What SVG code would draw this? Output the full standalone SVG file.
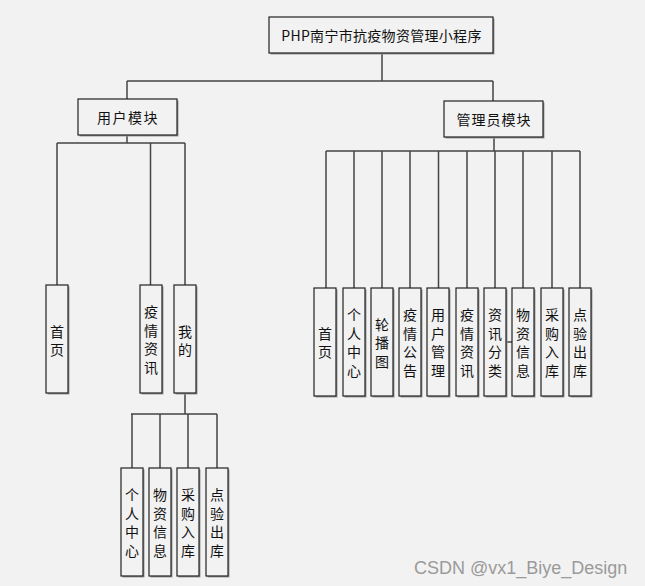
<svg xmlns="http://www.w3.org/2000/svg" width="645" height="586" viewBox="0 0 645 586">
<style>
.bx{fill:#f2f2f2;stroke:#222;stroke-width:1.2}
.sh{fill:#9a9a9a}
.t{font-family:"Noto Sans CJK SC","Liberation Sans",sans-serif;font-size:14px;fill:#111;text-anchor:middle;dominant-baseline:central}
.ln{stroke:#444;stroke-width:1.5;fill:none}
.wm{font-family:"Liberation Sans","Noto Sans",sans-serif;font-size:18px;fill:#9a9a9a}
</style>
<rect width="645" height="586" fill="#f2f2f2"/>
<g id="connectors">
<path class="ln" d="M382,53V81M127,81H493M127,81V99M493,81V101"/>
<path class="ln" d="M127,135V143M57,143H185M57,143V285M150.5,143V285M185,143V285"/>
<path class="ln" d="M185,393V414M131,414H217M132,414V468M160,414V468M188,414V468M217,414V468"/>
<path class="ln" d="M494,137V151M326,151H580M326,151V288M354,151V288M382,151V288M410,151V288M438.5,151V288M467,151V288M495,151V288M523,151V288M552,151V288M580,151V288"/>
<path class="ln" d="M506,342H512"/>
</g>
<g id="root"><rect class="sh" x="270.5" y="18.5" width="224" height="36"/><rect class="bx" x="269" y="17" width="224" height="36"/><text class="t" x="381.5" y="35" letter-spacing="0.3">PHP南宁市抗疫物资管理小程序</text></g>
<g id="user"><rect class="sh" x="79.5" y="100.5" width="99" height="36"/><rect class="bx" x="78" y="99" width="99" height="36"/><text class="t" x="128" y="117" letter-spacing="1.5">用户模块</text></g>
<g id="admin"><rect class="sh" x="445.5" y="102.5" width="99" height="36"/><rect class="bx" x="444" y="101" width="99" height="36"/><text class="t" x="494" y="119" letter-spacing="1">管理员模块</text></g>
<g id="u1"><rect class="sh" x="47.5" y="286.5" width="22" height="108"/><rect class="bx" x="46" y="285" width="22" height="108"/><text class="t" x="57" y="330.75">首</text><text class="t" x="57" y="349.25">页</text></g>
<g id="u2"><rect class="sh" x="141.5" y="286.5" width="22" height="108"/><rect class="bx" x="140" y="285" width="22" height="108"/><text class="t" x="151" y="311.25">疫</text><text class="t" x="151" y="329.75">情</text><text class="t" x="151" y="348.25">资</text><text class="t" x="151" y="366.75">讯</text></g>
<g id="u3"><rect class="sh" x="175.5" y="286.5" width="22" height="108"/><rect class="bx" x="174" y="285" width="22" height="108"/><text class="t" x="185" y="330.75">我</text><text class="t" x="185" y="349.25">的</text></g>
<g id="m1"><rect class="sh" x="122.5" y="469.5" width="22" height="108"/><rect class="bx" x="121" y="468" width="22" height="108"/><text class="t" x="132" y="494.25">个</text><text class="t" x="132" y="512.75">人</text><text class="t" x="132" y="531.25">中</text><text class="t" x="132" y="549.75">心</text></g>
<g id="m2"><rect class="sh" x="150.5" y="469.5" width="22" height="108"/><rect class="bx" x="149" y="468" width="22" height="108"/><text class="t" x="160" y="494.25">物</text><text class="t" x="160" y="512.75">资</text><text class="t" x="160" y="531.25">信</text><text class="t" x="160" y="549.75">息</text></g>
<g id="m3"><rect class="sh" x="178.5" y="469.5" width="22" height="108"/><rect class="bx" x="177" y="468" width="22" height="108"/><text class="t" x="188" y="494.25">采</text><text class="t" x="188" y="512.75">购</text><text class="t" x="188" y="531.25">入</text><text class="t" x="188" y="549.75">库</text></g>
<g id="m4"><rect class="sh" x="207.5" y="469.5" width="22" height="108"/><rect class="bx" x="206" y="468" width="22" height="108"/><text class="t" x="217" y="494.25">点</text><text class="t" x="217" y="512.75">验</text><text class="t" x="217" y="531.25">出</text><text class="t" x="217" y="549.75">库</text></g>
<g id="a1"><rect class="sh" x="315.5" y="289.5" width="22" height="108"/><rect class="bx" x="314" y="288" width="22" height="108"/><text class="t" x="325" y="332.75">首</text><text class="t" x="325" y="351.25">页</text></g>
<g id="a2"><rect class="sh" x="344.5" y="289.5" width="22" height="108"/><rect class="bx" x="343" y="288" width="22" height="108"/><text class="t" x="354" y="314.25">个</text><text class="t" x="354" y="332.75">人</text><text class="t" x="354" y="351.25">中</text><text class="t" x="354" y="369.75">心</text></g>
<g id="a3"><rect class="sh" x="372.5" y="289.5" width="22" height="108"/><rect class="bx" x="371" y="288" width="22" height="108"/><text class="t" x="382" y="323.5">轮</text><text class="t" x="382" y="342">播</text><text class="t" x="382" y="360.5">图</text></g>
<g id="a4"><rect class="sh" x="400.5" y="289.5" width="22" height="108"/><rect class="bx" x="399" y="288" width="22" height="108"/><text class="t" x="410" y="314.25">疫</text><text class="t" x="410" y="332.75">情</text><text class="t" x="410" y="351.25">公</text><text class="t" x="410" y="369.75">告</text></g>
<g id="a5"><rect class="sh" x="428.5" y="289.5" width="22" height="108"/><rect class="bx" x="427" y="288" width="22" height="108"/><text class="t" x="438" y="314.25">用</text><text class="t" x="438" y="332.75">户</text><text class="t" x="438" y="351.25">管</text><text class="t" x="438" y="369.75">理</text></g>
<g id="a6"><rect class="sh" x="457.5" y="289.5" width="22" height="108"/><rect class="bx" x="456" y="288" width="22" height="108"/><text class="t" x="467" y="314.25">疫</text><text class="t" x="467" y="332.75">情</text><text class="t" x="467" y="351.25">资</text><text class="t" x="467" y="369.75">讯</text></g>
<g id="a7"><rect class="sh" x="485.5" y="289.5" width="22" height="108"/><rect class="bx" x="484" y="288" width="22" height="108"/><text class="t" x="495" y="314.25">资</text><text class="t" x="495" y="332.75">讯</text><text class="t" x="495" y="351.25">分</text><text class="t" x="495" y="369.75">类</text></g>
<g id="a8"><rect class="sh" x="513.5" y="289.5" width="22" height="108"/><rect class="bx" x="512" y="288" width="22" height="108"/><text class="t" x="523" y="314.25">物</text><text class="t" x="523" y="332.75">资</text><text class="t" x="523" y="351.25">信</text><text class="t" x="523" y="369.75">息</text></g>
<g id="a9"><rect class="sh" x="542.5" y="289.5" width="22" height="108"/><rect class="bx" x="541" y="288" width="22" height="108"/><text class="t" x="552" y="314.25">采</text><text class="t" x="552" y="332.75">购</text><text class="t" x="552" y="351.25">入</text><text class="t" x="552" y="369.75">库</text></g>
<g id="a10"><rect class="sh" x="570.5" y="289.5" width="22" height="108"/><rect class="bx" x="569" y="288" width="22" height="108"/><text class="t" x="580" y="314.25">点</text><text class="t" x="580" y="332.75">验</text><text class="t" x="580" y="351.25">出</text><text class="t" x="580" y="369.75">库</text></g>
<text class="wm" x="414" y="574">CSDN @vx1_Biye_Design</text>
</svg>
